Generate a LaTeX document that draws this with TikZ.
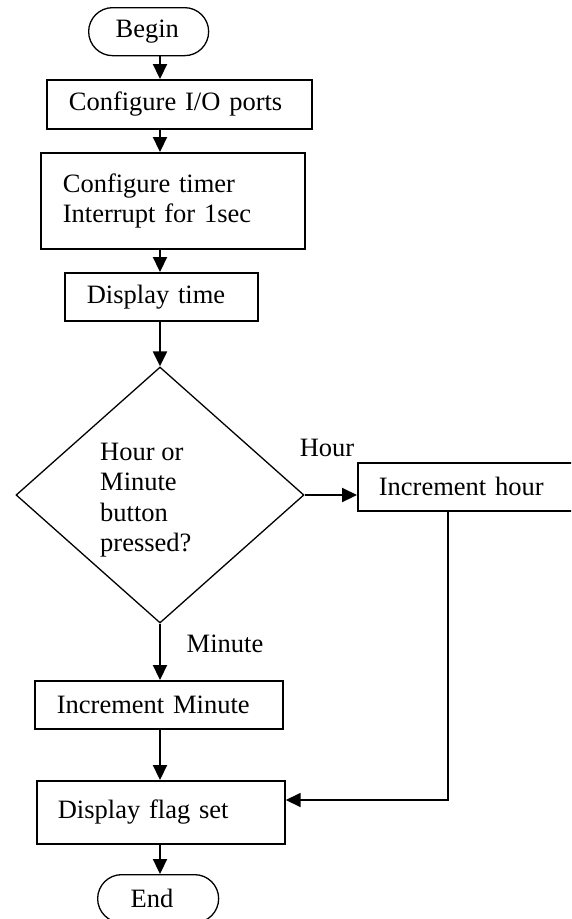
\documentclass[tikz,border=0pt]{standalone}
\usepackage{fontspec}
\setmainfont{Liberation Serif}
\usetikzlibrary{arrows.meta,shapes.geometric,calc}
\begin{document}
\begin{tikzpicture}[x=1pt,y=-1pt,
  every node/.style={font=\fontsize{26.5}{30.5}\selectfont},
  box/.style={draw, line width=1.7pt, anchor=north west, align=left, inner ysep=0pt},
  term/.style={draw, line width=1.3pt, rounded corners=24pt, minimum height=48pt,
               inner ysep=0pt, anchor=north west, align=left},
  arr/.style={line width=2.2pt, -{Triangle[length=15pt,width=14pt]}},
  retarr/.style={line width=1.6pt, -{Triangle[length=15pt,width=14pt]}},
  lbl/.style={inner sep=0pt}
]
\useasboundingbox (0,0) rectangle (571,919);
\clip (0,0) rectangle (571,919);

% nodes
\node[term, text width=66pt, inner xsep=27pt] (begin) at (88,7) {Begin};
\node[box, text width=221pt, inner xsep=22pt, minimum height=49pt] (io) at (46,79) {Configure I/O ports};
\node[box, text width=220pt, inner xsep=22pt, minimum height=96pt] (timer) at (40,152) {Configure timer\\Interrupt for 1sec};
\node[box, text width=149pt, inner xsep=22pt, minimum height=48pt] (disp) at (64,272) {Display time};
\node[draw, diamond, line width=1.3pt, minimum width=288pt, minimum height=256pt, inner sep=0pt] (dec) at (160,495) {};
\node[lbl, anchor=west, align=left] (dect) at (100,500) {Hour or\\Minute\\button\\pressed?};
\node[box, text width=178pt, inner xsep=21pt, minimum height=48pt] (inch) at (357,462) {Increment hour};
\node[box, text width=204pt, inner xsep=22pt, minimum height=48pt] (incm) at (34,680) {Increment Minute};
\node[box, text width=206pt, inner xsep=21pt, minimum height=63pt] (flag) at (36,780) {Display flag set};
\node[term, text width=55pt, inner xsep=33pt] (endn) at (97,874) {End};
\node[lbl] (hourlbl) at (327,448) {Hour};
\node[lbl] (minlbl) at (225,644) {Minute};

% connectors
\coordinate (ax) at (160,0);
\coordinate (ret) at (448,800);
\draw[arr] (begin.south -| ax) -- (io.north -| ax);
\draw[arr] (io.south -| ax) -- (timer.north -| ax);
\draw[arr] (timer.south -| ax) -- (disp.north -| ax);
\draw[arr] (disp.south -| ax) -- (dec.north);
\draw[arr] (dec.east) -- (dec.east -| inch.west);
\draw[arr] (dec.south) -- (incm.north -| dec.south);
\draw[arr] (incm.south -| ax) -- (flag.north -| ax);
\draw[arr] (flag.south -| ax) -- (endn.north -| ax);
\draw[retarr] (inch.south -| ret) -- (ret) -- (ret -| flag.east);
\end{tikzpicture}
\end{document}
